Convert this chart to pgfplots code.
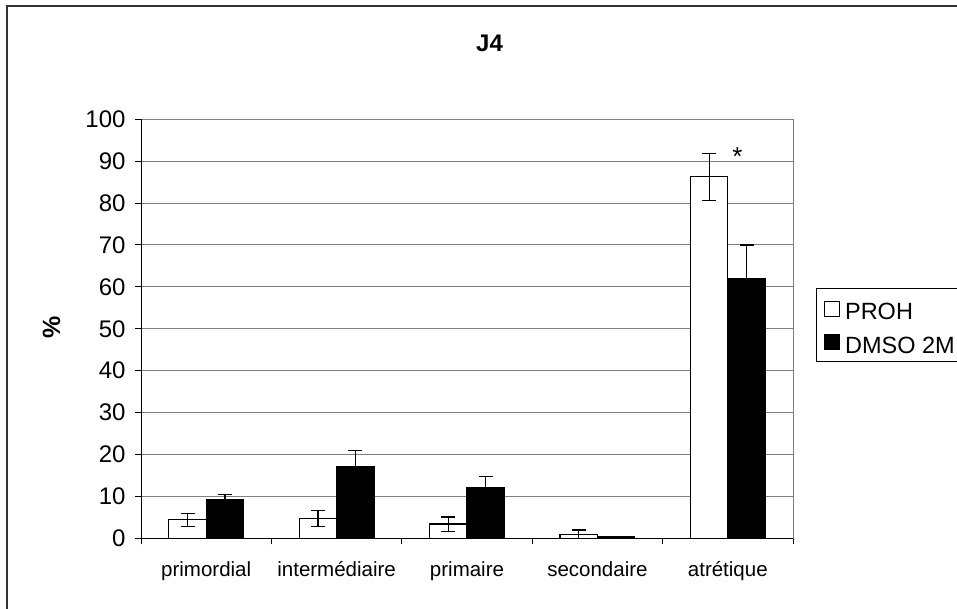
\documentclass[border=0pt]{standalone}
\usepackage{pgfplots}
\pgfplotsset{compat=1.18}
\usepackage{fontspec}
\setmainfont{Liberation Sans}
\begin{document}
\begin{tikzpicture}[x=1pt,y=1pt]
\useasboundingbox (0,0) rectangle (957,608);
\begin{scope}
\clip (0,0) rectangle (957,608);
\draw[line width=1.8pt, draw=black!80] (7,-20) -- (7,602) -- (1000,602);
\node[font=\bfseries\fontsize{24}{28}\selectfont] at (489.5,565) {J4};
\node[rotate=90,font=\bfseries\fontsize{25}{28}\selectfont] at (51.5,280.5) {\%};
\begin{axis}[
  at={(141pt,69.7pt)}, anchor=south west,
  scale only axis, width=652pt, height=419pt,
  xmin=-0.5, xmax=4.5, ymin=0, ymax=100,
  ybar=0pt, bar width=37.4pt,
  xtick={0,...,4},
  xticklabels={primordial, intermédiaire, primaire, secondaire, atrétique},
  minor xtick={-0.5,0.5,...,4.5},
  xtick pos=bottom, ytick pos=left,
  major x tick style={draw=none},
  ytick={0,10,...,100},
  ymajorgrids, grid style={draw=gray, line width=1pt},
  tick align=outside, major tick length=6pt, minor tick length=6pt,
  tick style={black, line width=1pt},
  axis line style={draw=gray, line width=1pt},
  /pgf/number format/assume math mode=true,
  yticklabel style={font=\fontsize{24}{28}\selectfont, xshift=-6pt},
  xticklabel style={font=\fontsize{20.5}{24}\selectfont, yshift=-14pt},
  legend style={at={(1.0348,0.597)}, anchor=north west, draw=black, line width=0.8pt,
    font=\fontsize{23.5}{27}\selectfont, inner xsep=3pt, inner ysep=5pt, row sep=4pt,
    nodes={text height=24pt}},
  legend cell align=left,
  legend image code/.code={\path[draw=none, fill=none] (0pt,-8pt) rectangle (24pt,7pt);
    \draw[#1, line width=1pt] (5pt,-8pt) rectangle (20pt,7pt);},
  error bars/error bar style={line width=1.2pt, black},
  error bars/error mark options={rotate=90, mark size=7pt, line width=1.2pt, black},
]
\addplot[fill=white, draw=black, line width=1.2pt,
  error bars/.cd, y dir=both, y explicit]
  coordinates {(0,4.4) +- (0,1.55) (1,4.8) +- (0,1.9) (2,3.4) +- (0,1.7) (3,1.0) +- (0,1.0) (4,86.3) +- (0,5.6)};
\addplot[fill=black, draw=black, line width=1.2pt,
  error bars/.cd, y dir=plus, y explicit]
  coordinates {(0,9.2) +- (0,1.3) (1,17.2) +- (0,3.8) (2,12.0) +- (0,2.7) (3,0.3) +- (0,0) (4,62.0) +- (0,8.0)};
\legend{PROH, DMSO 2M}
\draw[black, line width=1.3pt] (rel axis cs:0,1) -- (rel axis cs:0,0) -- (rel axis cs:1,0);
\node[font=\fontsize{26}{28}\selectfont] at (axis cs:4.074,91.0) {*};
\end{axis}
\end{scope}
\end{tikzpicture}
\end{document}
